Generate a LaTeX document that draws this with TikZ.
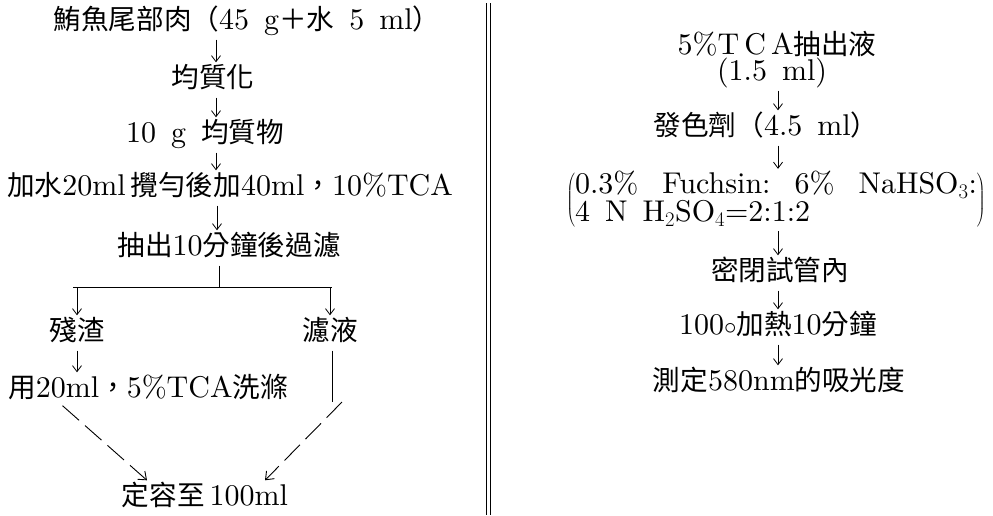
\documentclass[tikz,border=0pt]{standalone}
\usepackage{fontspec}
\setmainfont{lmroman10-regular.otf}[BoldFont=lmroman10-bold.otf,ItalicFont=lmroman10-italic.otf]
\newfontfamily\cjk{Noto Sans CJK TC}[Scale=0.92]
\newcommand\cj[1]{{\cjk #1}}
\usetikzlibrary{arrows.meta,calc}
\tikzset{
  txt/.style={font=\fontsize{30}{34}\selectfont, text height=20pt, text depth=6pt, inner sep=4.5pt, anchor=center},
  arr/.style={line width=0.8pt, -{Straight Barb[length=6pt,width=9pt]}},
  plain/.style={line width=0.9pt},
  dasharr/.style={line width=0.9pt, dash pattern=on 22pt off 8pt, -{Straight Barb[length=7pt,width=11pt]}}
}
\begin{document}
\begin{tikzpicture}[x=1pt,y=-1pt]
\useasboundingbox (0,0) rectangle (993,515);
% ---------- left column ----------
\node[txt] (a1) at (247,22) {\cj{鮪魚尾部肉（}45\enspace g\cj{＋水}\enspace 5\enspace ml\cj{）}};
\node[txt] (a2) at (213,80) {\cj{均質化}};
\node[txt] (a3) at (205,135) {10\enspace g\enspace\cj{均質物}};
\node[txt] (a4) at (230,188) {\cj{加水}20ml\,\cj{攪勻後加}40ml\cj{，}10\%TCA};
\node[txt] (a5) at (229,248) {\cj{抽出}10\cj{分鐘後過濾}};
\node[txt] (b1) at (77,333) {\cj{殘渣}};
\node[txt] (b2) at (330,333) {\cj{濾液}};
\node[txt] (b3) at (148,390) {\cj{用}20ml\cj{，}5\%TCA\cj{洗滌}};
\node[txt] (c)  at (205,498) {\cj{定容至}\,100ml};
\coordinate (xl) at (216,0);
\coordinate (xl2) at (217,0);
\coordinate (sp) at (219,287);
\coordinate (spl) at (73,287);
\coordinate (spr) at (332,287);
\coordinate (k) at (332,402);
\draw[arr] (a1.south -| xl) -- (a2.north -| xl);
\draw[arr] (a2.south -| xl) -- (a3.north -| xl);
\draw[arr] (a3.south -| xl) -- (a4.north -| xl);
\draw[arr] (a4.south -| xl2) -- (a5.north -| xl2);
\draw[plain] (a5.south -| sp) -- (sp);
\draw[plain] (spl) -- (spr);
\draw[arr] (spl -| b1) -- (b1.north);
\draw[arr] (spr -| b2) -- (b2.north);
\draw[arr] (b1.south) -- (b3.north -| b1);
\draw[plain] (b2.south -| k) -- (k);
\draw[dasharr] ($(b3.south west)+(59,-2)$) -- ($(c.north)+(-58,0)$);
\draw[dasharr] ($(k)+(10,0)$) -- ($(c.north)+(60,0)$);
% ---------- separator ----------
\draw[line width=0.9pt] (486,3) -- (486,515);
\draw[line width=0.9pt] (490,3) -- (490,515);
% ---------- right column ----------
\node[txt] (r1) at (777,47) {5\%T\,C\,A\cj{抽出液}};
\node[txt] (r2) at (772,73) {(1.5\enspace ml)};
\node[txt] (r3) at (766,128) {\cj{發色劑（}4.5\enspace ml\cj{）}};
\node[font=\fontsize{30}{34}\selectfont, inner sep=2pt] (r4) at (776,200)
  {$\left(\def\arraystretch{0.7}\begin{array}{@{}l@{}}
   \mbox{0.3\%\hspace{0.8em}Fuchsin:\hspace{0.8em}6\%\hspace{0.8em}NaHSO$_3$:}\\
   \mbox{4\enspace N\enspace H$_2$SO$_4$=2:1:2}
   \end{array}\right)$};
\node[txt] (r5) at (780,273) {\cj{密閉試管內}};
\node[txt] (r6) at (778,327) {100$\circ$\cj{加熱}10\cj{分鐘}};
\node[txt] (r7) at (779,383) {\cj{測定}580nm\cj{的吸光度}};
\coordinate (xr) at (778,0);
\draw[arr] (r2.south -| xr) -- (r3.north -| xr);
\draw[arr] (r3.south -| xr) -- (r4.north -| xr);
\draw[arr] (r4.south -| xr) -- (r5.north -| xr);
\draw[arr] (r5.south -| xr) -- (r6.north -| xr);
\draw[arr] (r6.south -| xr) -- (r7.north -| xr);
\end{tikzpicture}
\end{document}
